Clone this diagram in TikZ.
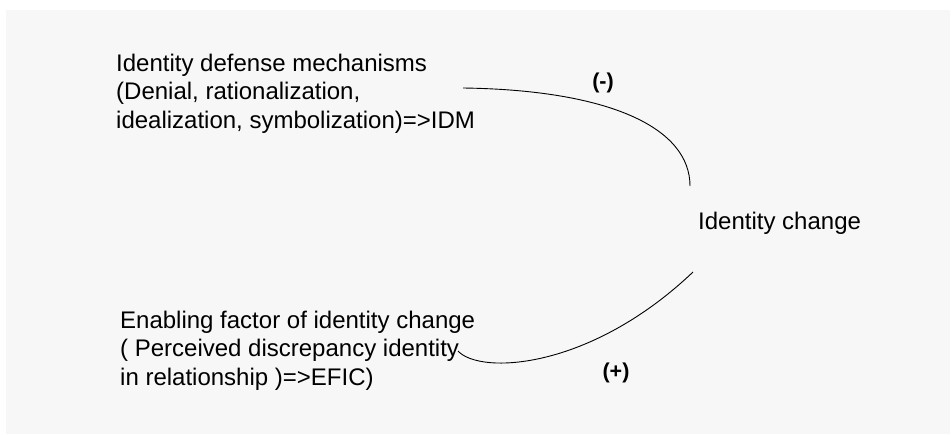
\documentclass[tikz,border=0pt]{standalone}
\usepackage{fontspec}
\setmainfont{Liberation Sans}
\definecolor{bgfill}{HTML}{F7F7F7}
\begin{document}
\begin{tikzpicture}[x=1pt,y=-1pt,
  lbl/.style={font=\fontsize{24}{28.5}\selectfont, inner sep=0pt, align=left, anchor=north west, text=black},
  title/.style={font=\fontsize{24}{28.5}\selectfont, inner sep=0pt, anchor=base west, text=black},
  sign/.style={font=\fontsize{21.5}{25}\selectfont\bfseries, inner sep=0pt, anchor=base, text=black},
  link/.style={line width=0.9pt, black}]
\useasboundingbox (0,0) rectangle (951,434);
\fill[white] (0,0) rectangle (951,434);
\fill[bgfill] (6,10) rectangle (950,434);

\node[lbl] (idm) at (116,51) {\strut Identity defense mechanisms\\(Denial, rationalization,\\idealization, symbolization)=>IDM};
\node[lbl] (efic) at (120,308) {\strut Enabling factor of identity change\\( Perceived discrepancy identity\\in relationship )=>EFIC)};
\node[title] (ic) at (698,229) {Identity change};
\node[sign] (minus) at (603,88) {(-)};
\node[sign] (plus) at (616,378) {(+)};

\coordinate (s1) at (463,88);
\coordinate (e1) at (690,186);
\coordinate (s2) at (458,351);
\coordinate (e2) at (693,272);

\draw[link] (s1) .. controls (610,90) and (690,128) .. (e1);
\draw[link] (s2) .. controls (480,375) and (590,370) .. (e2);
\end{tikzpicture}
\end{document}
